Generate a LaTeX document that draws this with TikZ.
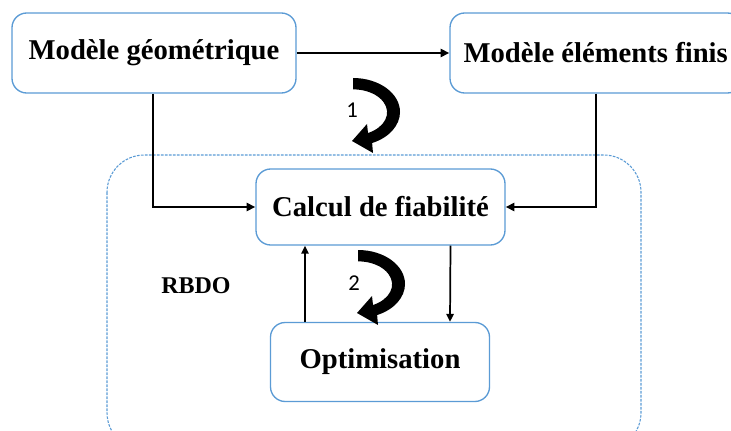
\documentclass[tikz,border=0pt]{standalone}
\usepackage{fontspec}
\setmainfont{Liberation Serif}
\newfontfamily\calib{Carlito}
\usetikzlibrary{arrows.meta,calc}
\definecolor{boxblue}{RGB}{91,155,213}
\tikzset{
  box/.style={draw=boxblue, line width=1pt, rounded corners=11pt, fill=white, inner sep=0pt,
    font=\fontsize{21.5}{24}\selectfont\bfseries},
  conn/.style={line width=1.8pt, -{Triangle[length=6.5pt,width=6pt]}},
  thinconn/.style={line width=1.3pt, -{Triangle[length=6pt,width=5.5pt]}},
  numlabel/.style={font=\calib\fontsize{17}{19}\selectfont, inner sep=0pt},
  curvarr/.pic={
    \fill[black] (0,0) arc[start angle=-90, end angle=66, x radius=47, y radius=34]
      -- (20,153-78) -- (-1,63) -- (14,124-78)
      -- (15,133-78) arc[start angle=64, end angle=-90, x radius=34, y radius=23] -- cycle;
  }
}
\begin{document}
\begin{tikzpicture}[x=0.75pt,y=-0.75pt]
\useasboundingbox (0,0) rectangle (731,431);
\clip (0,0) rectangle (731,431);
% dashed RBDO frame
\draw[boxblue, line width=0.8pt, dash pattern=on 2pt off 1pt, rounded corners=28pt]
  (107,155) rectangle (641,450);
\node[font=\fontsize{18}{20}\selectfont\bfseries] (rbdo) at (196,286) {RBDO};
% boxes
\node[box, minimum width=213pt, minimum height=60pt] (A) at (154,53) {Modèle géométrique};
\node[box, minimum width=219pt, minimum height=60pt] (B) at (596,53) {\hspace*{-0.5pt}Modèle éléments finis};
\node[box, minimum width=186.75pt, minimum height=57pt] (C) at (380.5,207) {Calcul de fiabilité};
\node[box, minimum width=164.25pt, minimum height=59.25pt] (O) at (380,362) {Optimisation};
% connectors
\draw[conn] (A.east) -- (B.west);
\draw[conn] ([xshift=-0.75pt]A.south) |- (C.west);
\draw[conn] (B.south) |- (C.east);
\draw[thinconn] ($(O.north)+(-75,0)$) -- ($(C.south)+(-75.5,0)$);
\draw[thinconn] ($(C.south)+(70,0)$) -- ($(O.north)+(70,0)$);
% curved arrows
\pic at (353,78) {curvarr};
\node[numlabel] (n1) at (352,110) {1};
\pic at (358,250) {curvarr};
\node[numlabel] (n2) at (354,283) {2};
\end{tikzpicture}
\end{document}
